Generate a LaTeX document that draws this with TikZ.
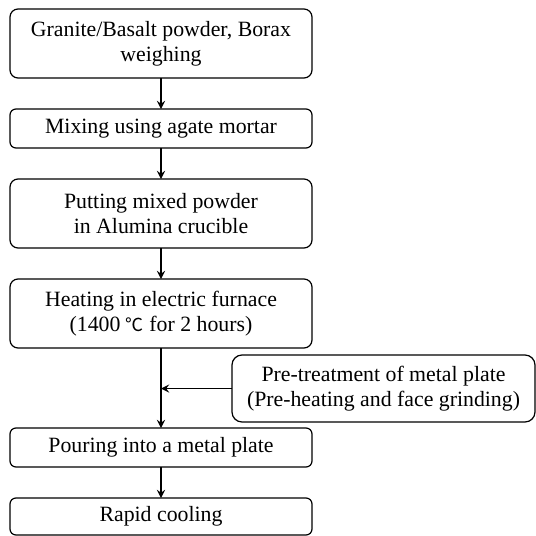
\documentclass[tikz,border=0pt]{standalone}
\usepackage{fontspec}
\setmainfont{Liberation Serif}
\newfontfamily\cjk{Noto Sans CJK SC}
\usetikzlibrary{shapes,arrows,positioning}

\begin{document}
\begin{tikzpicture}[
        node distance=15.5pt,
        stepbox/.style={rectangle, draw, rounded corners=4pt, line width=0.6pt, minimum width=151pt, minimum height=34.5pt, inner sep=0pt, outer sep=0pt, align=center, font=\fontsize{10.9}{12.5}\selectfont},
        short/.style={stepbox, rounded corners=3pt, minimum height=19.5pt},
        side/.style={stepbox, rounded corners=5pt, minimum width=151.5pt, minimum height=33.5pt},
        arrow/.style={->, line width=0.8pt, >=stealth}
    ]
        \useasboundingbox (0,0) rectangle (268pt,-268pt);

        \node[stepbox] (weigh) at (80.5pt,-21.75pt) {Granite/Basalt powder, Borax\\weighing};
        \node[short, below=of weigh]    (mix)      {Mixing using agate mortar};
        \node[stepbox, below=of mix]    (crucible) {Putting mixed powder\\in Alumina crucible};
        \node[stepbox, below=of crucible] (furnace) {Heating in electric furnace\\(1400 {\cjk\small ℃} for 2 hours)};

        \node[side, below right=3.5pt and -40pt of furnace.south east] (pretreat) {Pre-treatment of metal plate\\(Pre-heating and face grinding)};

        \node[short, below=40pt of furnace] (pour) {Pouring into a metal plate};
        \node[short, below=of pour, minimum height=18.5pt] (cool) {Rapid cooling};

        \coordinate (join) at (furnace.south |- pretreat.west);

        \draw[arrow] (weigh)    -- (mix);
        \draw[arrow] (mix)      -- (crucible);
        \draw[arrow] (crucible) -- (furnace);
        \draw[arrow] (furnace)  -- (pour);
        \draw[arrow] (pretreat.west) -- (join);
        \draw[arrow] (pour)     -- (cool);
    \end{tikzpicture}
\end{document}
